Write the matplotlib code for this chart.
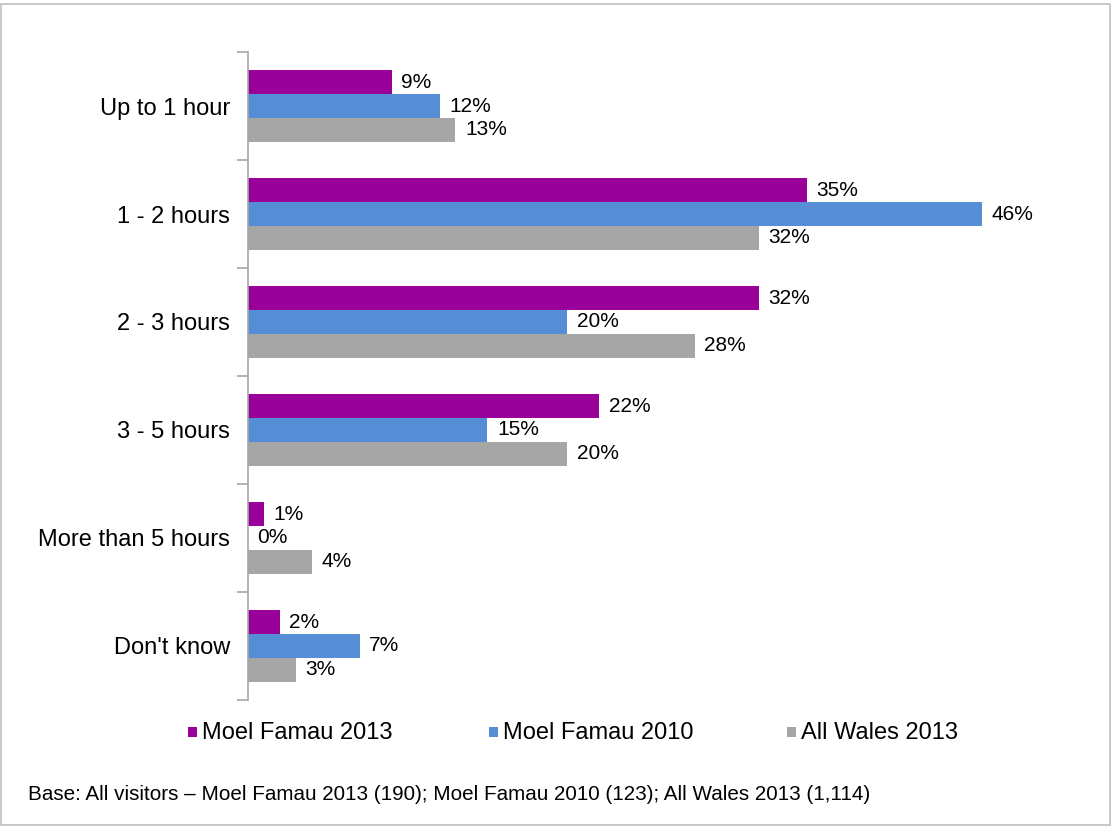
import numpy as np
import matplotlib.pyplot as plt
from matplotlib.patches import Rectangle

plt.rcParams['font.family'] = ['Liberation Sans', 'DejaVu Sans']

# Time spent on site, share of visitors (%)
categories = ["Up to 1 hour", "1 - 2 hours", "2 - 3 hours", "3 - 5 hours",
              "More than 5 hours", "Don't know"]
series_names = ["Moel Famau 2013", "Moel Famau 2010", "All Wales 2013"]
moel_2013 = [9, 35, 32, 22, 1, 2]
moel_2010 = [12, 46, 20, 15, 0, 7]
wales_2013 = [13, 32, 28, 20, 4, 3]
colors = ["#990099", "#558ED5", "#A6A6A6"]

fig = plt.figure(figsize=(11.13, 8.27), dpi=100)
ax = fig.add_axes([0.2228, 0.1536, 0.717, 0.7835])

y = np.arange(len(categories))
bar_h = 0.222
offsets = [-bar_h, 0, bar_h]
for vals, off, col in zip([moel_2013, moel_2010, wales_2013], offsets, colors):
    bars = ax.barh(y + off, vals, height=bar_h, color=col, edgecolor='none')
    for b, v in zip(bars, vals):
        ax.text(b.get_width() + 0.6, b.get_y() + b.get_height() / 2, f"{v}%",
                va='center', ha='left', fontsize=15, color='black')

ax.set_xlim(0, 50)
ax.set_ylim(len(categories) - 0.5, -0.5)
ax.set_yticks(y)
ax.set_yticklabels(categories, fontsize=17)
ax.set_yticks(np.arange(-0.5, len(categories), 1), minor=True)
ax.tick_params(axis='y', which='major', length=0, pad=13)
ax.tick_params(axis='y', which='minor', length=8, color='#A6A6A6', width=1.2)
ax.set_xticks([])
for side in ['top', 'right', 'bottom']:
    ax.spines[side].set_visible(False)
ax.spines['left'].set_color('#A6A6A6')
ax.spines['left'].set_linewidth(1.2)

# Legend drawn as small squares with labels below the axes
legend_x = [0.1685, 0.439, 0.707]
for lx, name, col in zip(legend_x, series_names, colors):
    fig.add_artist(Rectangle((lx, 0.109), 0.0085, 0.0115, transform=fig.transFigure,
                             facecolor=col, edgecolor='none'))
    fig.text(lx + 0.013, 0.114, name, fontsize=17, va='center', ha='left')

fig.text(0.025, 0.039, "Base: All visitors \u2013 Moel Famau 2013 (190); Moel Famau 2010 (123); "
         "All Wales 2013 (1,114)", fontsize=14.9, va='center', ha='left')

# Chart border
fig.add_artist(Rectangle((0.001, 0.002), 0.996, 0.993, transform=fig.transFigure,
                         facecolor='none', edgecolor='#BFBFBF', linewidth=1.2))

plt.savefig("out.png", dpi=100)
